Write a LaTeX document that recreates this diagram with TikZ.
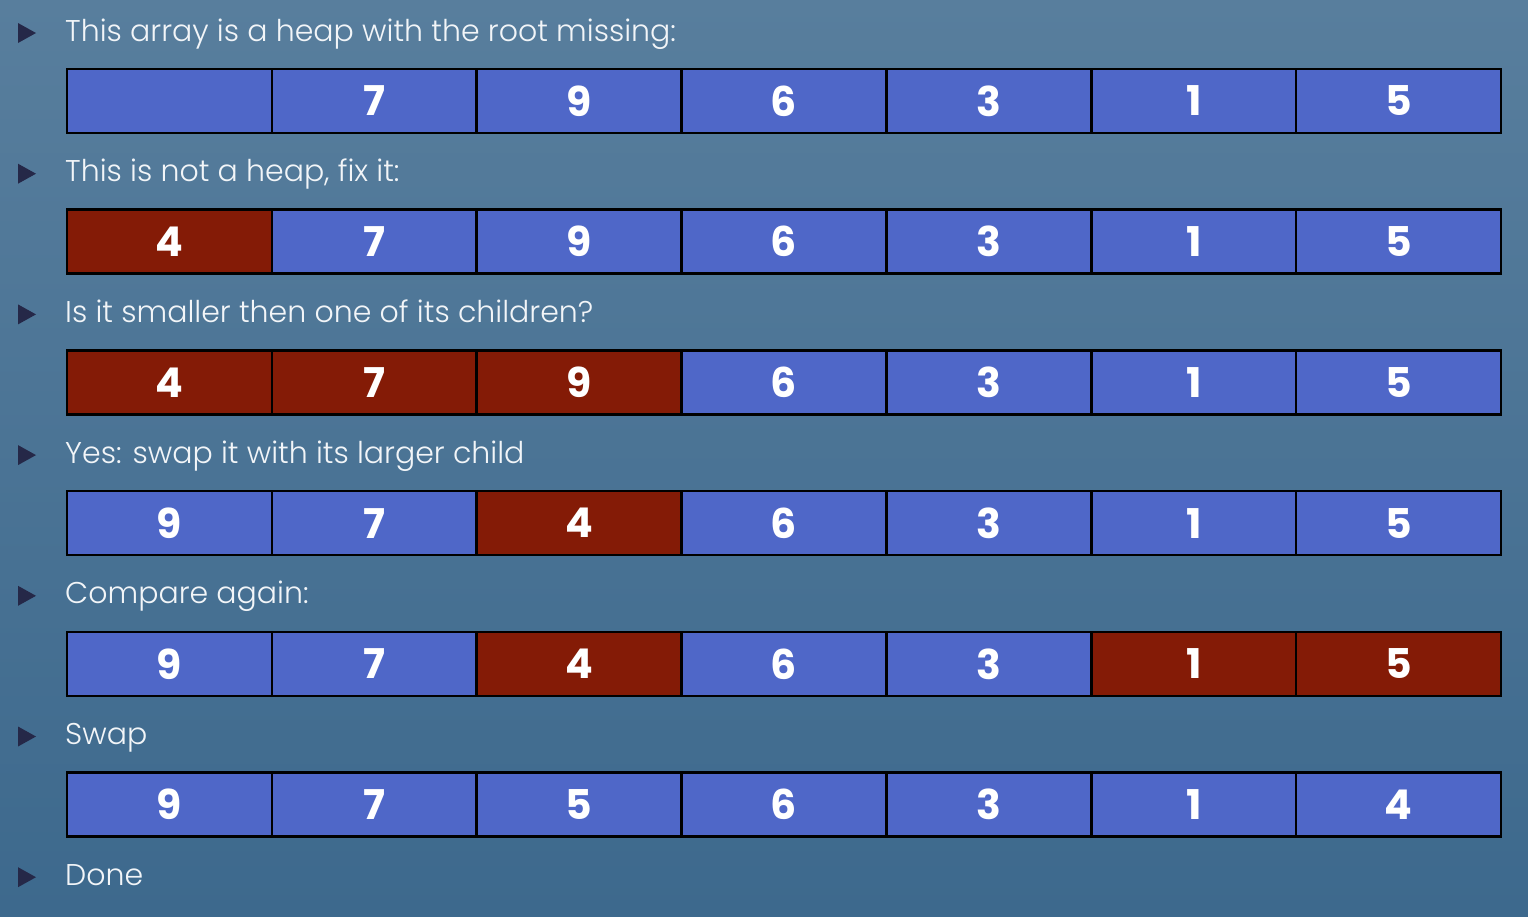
\documentclass[tikz,border=0pt]{standalone}
\usepackage{fontspec}
\setmainfont{Poppins}[UprightFont=* Light, BoldFont=* Bold]
\definecolor{cellblue}{HTML}{4F67C8}
\definecolor{cellred}{HTML}{841B06}
\definecolor{bulletc}{HTML}{252848}
\definecolor{textc}{HTML}{F2F5F8}
\definecolor{bgtop}{HTML}{587E9D}
\definecolor{bgmid}{HTML}{4C7798}
\definecolor{bgbot}{HTML}{3D698D}
\begin{document}
\begin{tikzpicture}[x=1pt,y=-1pt,
  cellb/.style={draw=black, line width=2.5pt, fill=cellblue, minimum width=204.86pt, minimum height=64pt,
    inner sep=0pt, outer sep=0pt, anchor=north west, font=\fontsize{41}{41}\selectfont\bfseries, text=white},
  cellr/.style={cellb, fill=cellred},
  lbl/.style={anchor=base west, font=\fontsize{30}{30}\selectfont, text=textc, inner sep=0pt}]
\useasboundingbox (0,0) rectangle (1528,916);
\shade[top color=bgtop, middle color=bgmid, bottom color=bgbot] (0,0) rectangle (1528,916);
% bullets
\foreach \k in {0,...,6}
  \fill[bulletc] (18,{23+140.7*\k}) -- (36,{33+140.7*\k}) -- (18,{43+140.7*\k}) -- cycle;
% labels
\node[lbl] (t0) at (65,41) {This array is a heap with the root missing:};
\node[lbl] (t1) at (65,181.7) {This is not a heap, fix it:};
\node[lbl] (t2) at (65,322.4) {Is it smaller then one of its children?};
\node[lbl] (t3) at (65,463.1) {Yes: swap it with its larger child};
\node[lbl] (t4) at (65,603.8) {Compare again:};
\node[lbl] (t5) at (65,744.5) {Swap};
\node[lbl] (t6) at (65,885.2) {Done};
% arrays
\foreach \v/\s [count=\i from 0] in {{}/cellb,7/cellb,9/cellb,6/cellb,3/cellb,1/cellb,5/cellb}
  \node[\s] (a1c\i) at ({67+204.86*\i},69) {\v};
\foreach \v/\s [count=\i from 0] in {4/cellr,7/cellb,9/cellb,6/cellb,3/cellb,1/cellb,5/cellb}
  \node[\s] (a2c\i) at ({67+204.86*\i},209.7) {\v};
\foreach \v/\s [count=\i from 0] in {4/cellr,7/cellr,9/cellr,6/cellb,3/cellb,1/cellb,5/cellb}
  \node[\s] (a3c\i) at ({67+204.86*\i},350.4) {\v};
\foreach \v/\s [count=\i from 0] in {9/cellb,7/cellb,4/cellr,6/cellb,3/cellb,1/cellb,5/cellb}
  \node[\s] (a4c\i) at ({67+204.86*\i},491.1) {\v};
\foreach \v/\s [count=\i from 0] in {9/cellb,7/cellb,4/cellr,6/cellb,3/cellb,1/cellr,5/cellr}
  \node[\s] (a5c\i) at ({67+204.86*\i},631.8) {\v};
\foreach \v/\s [count=\i from 0] in {9/cellb,7/cellb,5/cellb,6/cellb,3/cellb,1/cellb,4/cellb}
  \node[\s] (a6c\i) at ({67+204.86*\i},772.5) {\v};
\end{tikzpicture}
\end{document}
